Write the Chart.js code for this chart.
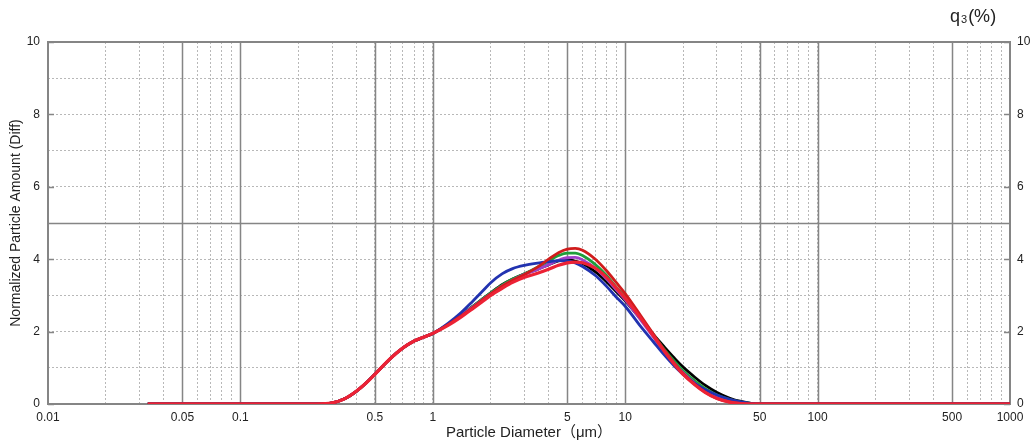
<!DOCTYPE html>
<html>
<head>
<meta charset="utf-8">
<script src="https://cdn.jsdelivr.net/npm/chart.js@4.4.0/dist/chart.umd.min.js"></script>
<style>
  html, body { margin: 0; padding: 0; background: #fff; }
</style>
</head>
<body>
<canvas id="psd" width="1033" height="445"></canvas>
<script>
// particle diameters (um) where the curves were read
const diameters = [0.033, 0.25, 0.3, 0.35, 0.4, 0.45, 0.5, 0.6, 0.7, 0.8, 0.9, 1.0, 1.2, 1.4,
  1.6, 1.8, 2.0, 2.3, 2.6, 3.0, 3.5, 4.0, 4.5, 5.0, 5.5, 6.0, 7.0, 8.0, 9.0, 10,
  12, 14, 16, 18, 20, 23, 26, 30, 35, 40, 45, 50, 1000];

// q3 values per run
const runRed = [0, 0, 0.03, 0.15, 0.35, 0.58, 0.82, 1.25, 1.55, 1.74, 1.85, 1.95, 2.17, 2.4,
  2.62, 2.82, 3.0, 3.2, 3.36, 3.5, 3.61, 3.72, 3.83, 3.9, 3.92, 3.9, 3.75, 3.5, 3.2, 2.92,
  2.38, 1.88, 1.45, 1.1, 0.82, 0.53, 0.32, 0.15, 0.05, 0.01, 0, 0, 0];
const runDarkRed = [0, 0, 0.03, 0.15, 0.35, 0.58, 0.82, 1.25, 1.55, 1.74, 1.85, 1.95, 2.19, 2.43,
  2.65, 2.86, 3.04, 3.26, 3.42, 3.58, 3.78, 4.0, 4.18, 4.28, 4.3, 4.25, 4.0, 3.68, 3.35, 3.05,
  2.45, 1.93, 1.48, 1.12, 0.84, 0.54, 0.33, 0.15, 0.05, 0.01, 0, 0, 0];
const runBlue = [0, 0, 0.03, 0.15, 0.35, 0.58, 0.82, 1.25, 1.55, 1.74, 1.85, 1.95, 2.23, 2.52,
  2.82, 3.1, 3.35, 3.6, 3.74, 3.83, 3.89, 3.93, 3.96, 3.95, 3.9, 3.8, 3.55, 3.25, 2.95, 2.7,
  2.15, 1.72, 1.35, 1.05, 0.82, 0.57, 0.4, 0.25, 0.13, 0.06, 0.02, 0, 0];
const runPurple = [0, 0, 0.03, 0.15, 0.35, 0.58, 0.82, 1.25, 1.55, 1.74, 1.85, 1.95, 2.2, 2.45,
  2.67, 2.87, 3.04, 3.26, 3.42, 3.58, 3.72, 3.85, 3.97, 4.04, 4.05, 3.98, 3.75, 3.45, 3.15, 2.88,
  2.33, 1.85, 1.44, 1.12, 0.86, 0.58, 0.38, 0.2, 0.08, 0.03, 0.01, 0, 0];
const runGreen = [0, 0, 0.03, 0.15, 0.35, 0.58, 0.82, 1.25, 1.55, 1.74, 1.85, 1.95, 2.2, 2.45,
  2.68, 2.89, 3.07, 3.29, 3.45, 3.6, 3.78, 3.95, 4.1, 4.17, 4.17, 4.1, 3.85, 3.55, 3.22, 2.95,
  2.4, 1.92, 1.5, 1.18, 0.92, 0.64, 0.43, 0.25, 0.12, 0.05, 0.02, 0, 0];
const runBlack = [0, 0, 0.03, 0.15, 0.35, 0.58, 0.82, 1.25, 1.55, 1.74, 1.85, 1.95, 2.2, 2.45,
  2.68, 2.89, 3.07, 3.3, 3.45, 3.6, 3.72, 3.85, 3.95, 3.98, 3.95, 3.88, 3.65, 3.38, 3.1, 2.85,
  2.35, 1.92, 1.57, 1.27, 1.02, 0.74, 0.52, 0.32, 0.16, 0.07, 0.02, 0, 0];

// axis ticks
const xTickLabels = [0.01, 0.05, 0.1, 0.5, 1, 5, 10, 50, 100, 500, 1000];
const xMajorLines = [0.05, 0.1, 0.5, 1, 5, 10, 50, 100, 500];
const yTickLabels = [0, 2, 4, 6, 8, 10];
const yGridValues = [0, 1, 2, 3, 4, 5, 6, 7, 8, 9, 10];

const xGridValues = [];
for (let e = -2; e < 3; e++) {
  for (let m = 1; m < 10; m++) xGridValues.push(+(m * Math.pow(10, e)).toPrecision(3));
}
xGridValues.push(1000);

const pts = arr => diameters.map((d, i) => ({x: d, y: arr[i]}));
const near = (a, b) => Math.abs(a - b) / b < 1e-6;

const fontFam = 'Arial, "Liberation Sans", "Noto Sans CJK JP", sans-serif';
Chart.defaults.font.family = fontFam;
Chart.defaults.color = '#222';

const frameLines = {
  id: 'frameLines',
  beforeDatasetsDraw(chart) {
    const ctx = chart.ctx;
    const a = chart.chartArea;
    const xs = chart.scales.x, ys = chart.scales.y;
    ctx.save();
    ctx.strokeStyle = '#858585';
    ctx.lineWidth = 1.5;
    xMajorLines.forEach(v => {
      const px = Math.round(xs.getPixelForValue(v)) + 0.5;
      ctx.beginPath(); ctx.moveTo(px, a.top); ctx.lineTo(px, a.bottom); ctx.stroke();
    });
    const py5 = Math.round(ys.getPixelForValue(5)) + 0.5;
    ctx.beginPath(); ctx.moveTo(a.left, py5); ctx.lineTo(a.right, py5); ctx.stroke();
    // small inward ticks at labelled values
    yTickLabels.forEach(v => {
      const py = Math.round(ys.getPixelForValue(v)) + 0.5;
      ctx.beginPath(); ctx.moveTo(a.left, py); ctx.lineTo(a.left + 6, py); ctx.stroke();
      ctx.beginPath(); ctx.moveTo(a.right - 6, py); ctx.lineTo(a.right, py); ctx.stroke();
    });
    ctx.lineWidth = 2;
    ctx.strokeRect(a.left, a.top, a.right - a.left, a.bottom - a.top);
    ctx.restore();
  },
  afterDraw(chart) {
    const ctx = chart.ctx;
    const a = chart.chartArea;
    ctx.save();
    ctx.fillStyle = '#222';
    ctx.textBaseline = 'alphabetic';
    ctx.font = '18px ' + fontFam;
    let x = a.right - 60;
    const base = 22;
    ctx.fillText('q', x, base);
    x += ctx.measureText('q').width + 1;
    ctx.font = '11px ' + fontFam;
    ctx.fillText('3', x, base + 1);
    x += ctx.measureText('3').width + 1;
    ctx.font = '18px ' + fontFam;
    ctx.fillText('(%)', x, base);
    ctx.restore();
  }
};

const line = (label, data, color, w) => ({
  label: label,
  data: pts(data),
  borderColor: color,
  backgroundColor: color,
  borderWidth: w,
  pointRadius: 0,
  fill: false,
  cubicInterpolationMode: 'monotone'
});

new Chart(document.getElementById('psd'), {
  type: 'line',
  data: {
    datasets: [
      line('Run 6', runRed, '#ec2235', 3.2),
      line('Run 5', runDarkRed, '#d01c1c', 2.8),
      line('Run 4', runBlue, '#2233b0', 2.8),
      line('Run 3', runPurple, '#a040c8', 2.8),
      line('Run 2', runGreen, '#1f9e3a', 2.8),
      line('Run 1', runBlack, '#000000', 2.8)
    ]
  },
  options: {
    responsive: false,
    animation: false,
    devicePixelRatio: 1,
    layout: { padding: { top: 42, left: 0, right: 0, bottom: 0 } },
    plugins: { legend: { display: false }, tooltip: { enabled: false } },
    scales: {
      x: {
        type: 'logarithmic',
        min: 0.01,
        max: 1000,
        afterBuildTicks: s => { s.ticks = xGridValues.map(v => ({value: v})); },
        afterFit: s => { s.height = 41; },
        ticks: {
          autoSkip: false,
          maxRotation: 0,
          padding: 6,
          font: { size: 12 },
          callback: v => {
            const hit = xTickLabels.find(t => near(v, t));
            return hit === undefined ? '' : String(hit);
          }
        },
        grid: { color: '#b8b8b8', lineWidth: 1, drawTicks: false },
        border: { display: false, dash: [2, 2] },
        title: { display: true, text: 'Particle Diameter（μm）', font: { size: 15 }, padding: { top: 0, bottom: 3 } }
      },
      y: {
        position: 'left',
        min: 0,
        max: 10,
        afterBuildTicks: s => { s.ticks = yGridValues.map(v => ({value: v})); },
        afterFit: s => { s.width = 48; },
        ticks: {
          padding: 8,
          font: { size: 12 },
          callback: v => yTickLabels.includes(v) ? String(v) : ''
        },
        grid: { color: '#b8b8b8', lineWidth: 1, drawTicks: false },
        border: { display: false, dash: [2, 2] },
        title: { display: true, text: 'Normalized Particle Amount (Diff)', font: { size: 14 }, padding: { top: 8, bottom: 0 } }
      },
      y2: {
        position: 'right',
        min: 0,
        max: 10,
        afterBuildTicks: s => { s.ticks = yGridValues.map(v => ({value: v})); },
        afterFit: s => { s.width = 23; },
        ticks: {
          padding: 7,
          font: { size: 12 },
          callback: v => yTickLabels.includes(v) ? String(v) : ''
        },
        grid: { drawOnChartArea: false, drawTicks: false },
        border: { display: false }
      }
    }
  },
  plugins: [frameLines]
});
</script>
</body>
</html>
